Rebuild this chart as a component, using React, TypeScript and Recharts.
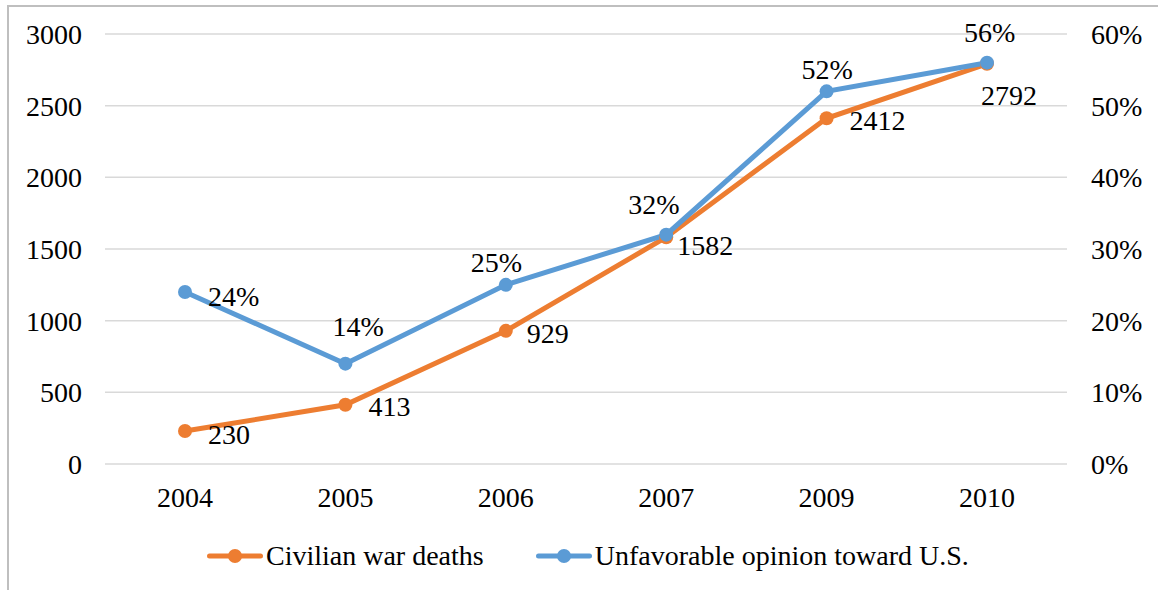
import { LineChart, Line, XAxis, YAxis, CartesianGrid, Legend, LabelList } from 'recharts';

const years = ['2004', '2005', '2006', '2007', '2009', '2010'];
const civilianDeaths = [230, 413, 929, 1582, 2412, 2792];
const unfavorableOpinion = [24, 14, 25, 32, 52, 56];
const deathTicks = [0, 500, 1000, 1500, 2000, 2500, 3000];
const opinionTicks = [0, 10, 20, 30, 40, 50, 60];

const ORANGE = '#ED7D31';
const BLUE = '#5B9BD5';
const FONT = '"Liberation Serif", "Times New Roman", serif';
const FONT_SIZE = 28;

// label nudges (text start x, text middle y) relative to each point
const deathLabelOffsets = [[23, 3], [23, 2], [21, 3], [11, 8], [23, 2], [-6, 32]];
const opinionLabelOffsets = [[23, 4], [-13, -37], [-35, -22], [-38, -30], [-25, -22], [-23, -30]];

const data = years.map((year, i) => ({
  year,
  deaths: civilianDeaths[i],
  opinion: unfavorableOpinion[i],
}));

const legendItems = [
  { label: 'Civilian war deaths', color: ORANGE },
  { label: 'Unfavorable opinion toward U.S.', color: BLUE },
];

function makeLabel(offsets: number[][], format: (v: number) => string) {
  return (props: any) => {
    const { x, y, value, index } = props;
    const [dx, dy] = offsets[index] ?? [0, 0];
    return (
      <text
        x={Number(x) + dx}
        y={Number(y) + dy}
        dominantBaseline="central"
        textAnchor="start"
        fontFamily={FONT}
        fontSize={FONT_SIZE}
        fill="#000"
      >
        {format(Number(value))}
      </text>
    );
  };
}

function LegendContent() {
  return (
    <div style={{ display: 'flex', alignItems: 'center', paddingLeft: 207, gap: 52 }}>
      {legendItems.map((item) => (
        <div key={item.label} style={{ display: 'flex', alignItems: 'center' }}>
          <svg width={56} height={16} style={{ marginRight: 3 }}>
            <line x1={2.5} y1={8} x2={53.5} y2={8} stroke={item.color} strokeWidth={5} strokeLinecap="round" />
            <circle cx={28} cy={8} r={7} fill={item.color} />
          </svg>
          <span style={{ fontFamily: FONT, fontSize: FONT_SIZE, color: '#000', lineHeight: 1 }}>
            {item.label}
          </span>
        </div>
      ))}
    </div>
  );
}

export default function App() {
  const tick = { fontFamily: FONT, fontSize: FONT_SIZE, fill: '#000' };
  return (
    <div style={{ position: 'absolute', left: 0, top: 0, width: 1158, height: 590, background: '#fff' }}>
      <div
        style={{
          position: 'absolute',
          left: 7,
          top: 5,
          right: 0,
          bottom: 0,
          borderLeft: '2px solid #BFBFBF',
          borderTop: '2px solid #BFBFBF',
        }}
      />
      <LineChart width={1158} height={590} data={data} margin={{ top: 34, right: 0, bottom: 66, left: 0 }}>
        <CartesianGrid horizontal vertical={false} stroke="#D9D9D9" strokeWidth={1.5} />
        <XAxis
          dataKey="year"
          height={60}
          padding={{ left: 80, right: 80 }}
          axisLine={false}
          tickLine={false}
          tickSize={0}
          tickMargin={23}
          tick={tick}
        />
        <YAxis
          width={105}
          domain={[0, 3000]}
          ticks={deathTicks}
          axisLine={false}
          tickLine={false}
          tickSize={0}
          tickMargin={23}
          tick={tick}
        />
        <YAxis
          yAxisId="right"
          orientation="right"
          width={91}
          domain={[0, 60]}
          ticks={opinionTicks}
          tickFormatter={(v) => `${v}%`}
          axisLine={false}
          tickLine={false}
          tickSize={0}
          tickMargin={24}
          tick={tick}
        />
        <Legend
          layout="horizontal"
          verticalAlign="middle"
          align="center"
          content={<LegendContent />}
          wrapperStyle={{ top: 542, left: 0, width: 1158 }}
        />
        <Line
          dataKey="deaths"
          stroke={ORANGE}
          strokeWidth={5}
          dot={{ r: 7, fill: ORANGE, stroke: 'none' }}
          activeDot={false}
          isAnimationActive={false}
        >
          <LabelList dataKey="deaths" content={makeLabel(deathLabelOffsets, (v) => String(v))} />
        </Line>
        <Line
          yAxisId="right"
          dataKey="opinion"
          stroke={BLUE}
          strokeWidth={5}
          dot={{ r: 7, fill: BLUE, stroke: 'none' }}
          activeDot={false}
          isAnimationActive={false}
        >
          <LabelList dataKey="opinion" content={makeLabel(opinionLabelOffsets, (v) => `${v}%`)} />
        </Line>
      </LineChart>
    </div>
  );
}
